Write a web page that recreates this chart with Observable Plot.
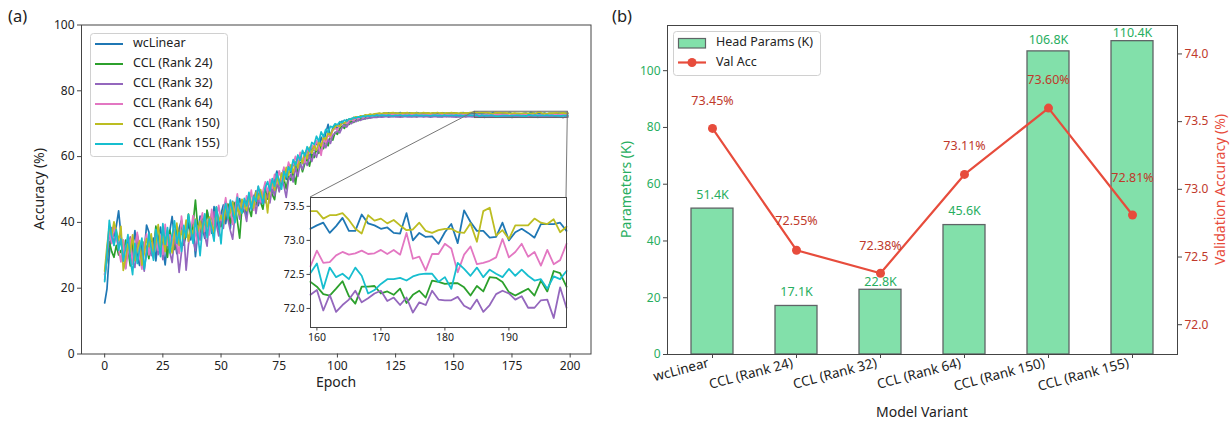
<!DOCTYPE html>
<html><head><meta charset="utf-8">
<script src="https://cdn.jsdelivr.net/npm/d3@7"></script>
<script src="https://cdn.jsdelivr.net/npm/@observablehq/plot@0.6"></script>
<style>
body{margin:0;background:#fff;}
#root{position:relative;width:1232px;height:423px;overflow:hidden;font-family:"Noto Sans",sans-serif;background:#fff;}
#root svg{position:absolute;overflow:visible;max-width:none;}
</style></head><body><div id="root"></div>
<script>
// ---------------- DATA ----------------
const models = ["wcLinear","CCL (Rank 24)","CCL (Rank 32)","CCL (Rank 64)","CCL (Rank 150)","CCL (Rank 155)"];
const modelColors = ["#1f77b4","#2ca02c","#9467bd","#e377c2","#bcbd22","#17becf"];

// accuracy per epoch (0..199), one row = 10 epochs
const accWcLinear = [
15.5,19.8,30.6,37.2,35.8,38.9,43.5,36.2,30.4,26.1,
34.2,28.5,31.7,37.5,29.8,26.9,33.4,31.0,39.2,37.1,
31.6,35.2,28.3,34.8,38.6,32.0,27.1,34.5,37.4,41.8,
34.9,30.5,38.2,40.6,33.1,36.4,39.8,34.7,38.5,29.6,
36.8,41.9,38.4,35.2,43.6,40.1,36.7,44.8,41.2,37.9,
42.7,45.3,39.6,43.8,38.2,46.4,41.9,44.5,47.2,43.6,
45.9,42.1,47.8,44.2,46.5,49.6,45.1,48.3,46.9,50.4,
47.8,51.9,49.2,52.8,55.6,51.4,54.3,56.2,53.1,57.4,
55.2,58.3,56.1,59.0,60.6,57.9,60.8,62.3,59.6,63.1,
61.8,64.7,62.5,65.9,64.1,67.2,69.8,65.9,68.7,69.5,
68.4,70.2,70.8,69.6,71.2,70.5,71.6,71.1,72.0,71.7,
72.2,71.9,72.5,72.3,72.8,72.6,72.9,72.7,73.1,72.9,
73.21,73.08,73.30,73.15,73.02,73.26,73.18,73.35,73.11,73.24,
73.05,73.29,73.17,73.12,73.38,73.20,73.09,73.27,73.14,73.31,
73.03,73.22,73.16,73.28,73.10,73.34,73.19,73.07,73.25,73.13,
73.30,73.21,73.06,73.18,73.36,73.12,73.23,73.09,73.20,73.17,
73.22,73.26,73.11,73.21,73.33,73.14,73.14,73.38,73.25,73.22,
73.17,73.19,73.11,73.10,73.40,73.00,73.11,73.05,73.06,72.95,
73.12,73.24,72.96,73.44,73.27,73.14,73.14,73.04,73.05,73.26,
73.00,73.12,73.17,73.11,73.04,73.24,73.24,73.24,73.26,73.14];

const accRank24 = [
24.3,28.6,34.1,31.2,29.4,33.0,30.1,31.5,29.8,34.6,
31.9,26.8,33.5,29.2,35.8,30.4,27.6,34.1,32.3,29.0,
35.7,31.4,38.9,33.2,30.5,36.8,33.9,29.4,37.6,34.0,
31.8,38.4,35.1,40.3,33.6,37.2,42.5,36.0,39.7,46.8,
38.3,35.4,41.2,37.9,43.7,39.1,42.8,36.5,44.6,40.2,
38.7,43.9,41.1,45.6,39.8,42.3,46.1,40.5,35.2,44.8,
43.0,46.7,44.2,41.8,47.5,45.3,48.9,46.2,44.0,49.6,
47.1,50.8,48.5,46.9,52.2,49.7,51.6,53.4,50.2,54.1,
52.8,55.9,51.6,56.8,58.2,55.4,57.9,59.6,57.1,60.8,
59.7,62.2,61.0,63.7,62.4,64.8,63.3,66.1,65.0,67.4,
66.8,68.5,69.3,68.6,70.1,69.8,70.7,70.4,71.2,70.9,
71.5,71.3,71.8,71.6,72.0,71.9,72.1,72.0,72.3,72.2,
72.28,72.35,72.19,72.31,72.24,72.40,72.22,72.30,72.15,72.33,
72.26,72.38,72.21,72.29,72.12,72.34,72.27,72.20,72.36,72.25,
72.31,72.18,72.42,72.23,72.30,72.16,72.35,72.27,72.21,72.39,
72.24,72.32,72.19,72.28,72.37,72.22,72.30,72.26,72.34,72.39,
72.32,72.21,72.19,72.29,72.40,72.18,72.07,72.32,72.32,72.33,
72.22,72.25,72.20,72.29,72.08,72.20,72.26,72.16,72.41,72.39,
72.36,72.37,72.37,72.31,72.19,72.33,72.25,72.46,72.45,72.39,
72.24,72.19,72.24,72.29,72.19,72.41,72.25,72.55,72.52,72.32];

const accRank32 = [
22.5,29.7,35.8,38.4,33.1,36.9,32.6,35.2,30.8,27.4,
32.9,35.6,28.1,26.3,36.4,33.0,29.5,25.2,31.8,34.7,
29.9,32.5,36.8,30.2,34.4,28.7,33.9,37.5,31.0,27.8,
35.3,32.1,24.8,30.9,36.7,25.5,33.2,38.1,35.0,31.4,
38.9,34.6,40.5,36.1,32.8,41.3,37.7,43.2,39.4,35.9,
41.7,38.2,44.3,40.8,37.5,34.9,42.6,45.1,41.0,46.5,
43.8,40.3,46.9,44.5,48.2,42.7,47.4,45.8,49.3,46.0,
48.6,45.9,50.7,48.1,52.5,49.3,53.8,51.2,47.6,53.0,
54.7,52.3,56.5,54.0,57.8,56.1,58.9,57.3,60.2,58.5,
61.3,59.8,62.6,61.4,63.9,62.7,65.3,64.0,66.5,67.1,
67.9,67.2,68.8,69.5,69.0,70.2,70.0,70.8,70.6,71.2,
71.0,71.5,71.4,71.8,71.7,71.9,72.0,71.9,72.1,72.0,
72.10,72.18,72.02,72.14,72.21,72.07,72.15,71.98,72.12,72.20,
72.05,72.16,72.09,72.23,72.03,72.13,72.19,72.06,72.11,72.17,
72.00,72.14,72.22,72.08,72.15,72.04,72.18,72.10,72.24,72.06,
72.13,72.01,72.16,72.09,72.20,72.05,72.12,72.17,72.08,72.20,
72.27,71.97,72.20,71.95,72.05,72.13,72.26,72.09,72.15,72.22,
72.26,72.11,72.16,72.05,72.16,71.94,72.09,72.05,72.26,72.13,
72.12,72.12,72.17,72.04,71.99,72.13,71.95,72.05,72.21,72.26,
72.22,72.13,72.18,72.01,72.01,72.12,72.13,71.86,72.31,72.01];

const accRank64 = [
24.0,31.2,37.5,33.6,39.1,35.4,31.8,28.0,34.7,25.9,
30.6,34.9,27.3,32.4,37.0,29.6,25.8,33.3,36.5,30.1,
33.8,29.2,37.1,31.5,35.9,30.3,39.4,33.0,36.2,32.7,
37.8,33.4,30.6,41.9,35.7,39.3,34.1,37.6,42.1,36.3,
33.8,39.7,42.9,37.3,40.6,36.2,44.0,38.5,41.4,45.2,
40.6,43.2,47.5,42.0,45.8,39.4,44.1,48.7,43.5,46.9,
44.2,48.1,45.5,49.8,43.7,47.6,50.9,46.3,49.5,52.3,
49.0,53.1,50.4,54.6,51.8,55.7,53.0,56.8,54.5,58.3,
56.0,57.7,60.1,57.4,61.3,59.0,58.2,62.5,60.9,63.6,
62.0,64.9,63.1,60.4,65.6,64.2,66.8,65.7,67.9,68.6,
68.1,69.4,69.9,70.3,70.0,70.9,71.3,71.0,71.7,71.6,
72.0,71.8,72.3,72.1,72.5,72.4,72.6,72.5,72.8,72.7,
72.78,72.86,72.71,72.83,72.90,72.75,72.81,72.68,72.85,72.79,
72.92,72.74,72.82,72.88,72.70,72.80,72.87,72.76,72.84,72.72,
72.89,72.79,72.83,72.69,72.86,72.77,72.91,72.80,72.73,72.85,
72.78,72.88,72.74,72.82,72.76,72.87,72.71,72.84,72.66,72.62,
72.85,72.67,72.68,72.78,72.83,72.79,72.81,72.85,72.80,72.81,
72.86,72.80,72.86,72.79,73.11,72.73,72.76,72.56,72.80,72.80,
72.95,72.88,72.53,72.79,72.91,72.65,72.67,72.70,72.75,73.02,
72.75,72.83,72.95,72.76,72.83,72.63,72.86,72.65,72.71,72.95];

const accRank150 = [
25.2,32.8,38.7,36.1,40.2,37.3,34.5,38.8,25.4,29.1,
33.5,30.8,36.2,28.4,31.9,34.4,27.0,30.5,35.1,32.6,
36.5,30.1,33.7,39.3,32.4,35.8,31.2,36.9,34.0,30.7,
36.2,39.8,33.0,37.4,35.1,40.7,34.3,38.2,36.6,41.0,
37.1,40.4,36.8,42.2,38.7,41.6,39.2,37.0,43.5,40.3,
42.1,39.7,44.9,41.4,43.0,46.2,40.8,44.6,42.3,47.0,
45.2,43.6,48.3,46.0,44.4,49.2,47.1,50.0,46.5,48.8,
42.9,50.2,52.7,49.8,53.9,51.5,55.0,52.6,56.7,54.3,
57.5,55.0,58.4,56.6,59.7,58.0,61.2,59.4,62.8,61.0,
63.4,61.9,64.5,63.2,66.0,65.1,67.3,66.4,68.2,69.0,
69.6,69.1,70.4,70.1,70.9,71.4,71.2,71.9,72.1,72.0,
72.4,72.3,72.7,72.6,72.9,72.8,73.0,73.1,73.2,73.1,
73.22,73.30,73.15,73.27,73.35,73.19,73.25,73.12,73.31,73.24,
73.38,73.18,73.28,73.21,73.33,73.14,73.26,73.36,73.20,73.29,
73.16,73.32,73.23,73.40,73.19,73.27,73.13,73.30,73.25,73.37,
73.21,73.28,73.17,73.34,73.24,73.31,73.20,73.38,73.42,73.43,
73.43,73.32,73.37,73.37,73.40,73.30,73.17,73.10,73.37,73.29,
73.32,73.25,73.30,73.22,73.15,73.16,73.26,73.14,73.11,73.15,
73.17,73.17,73.12,73.11,73.25,72.98,73.43,73.48,73.07,73.15,
73.02,73.22,73.22,73.22,73.32,73.26,73.24,73.31,73.12,73.20];

const accRank155 = [
22.0,30.4,40.6,35.7,33.0,37.8,31.5,34.9,28.2,32.1,
36.3,29.0,24.1,33.6,27.5,31.9,35.2,25.8,30.4,36.7,
32.2,28.5,37.9,34.1,29.6,39.6,33.3,38.4,30.8,36.0,
40.5,33.7,37.0,31.2,39.1,35.5,42.4,37.9,33.6,40.8,
36.5,29.9,38.1,42.6,35.4,41.0,37.8,34.3,44.7,39.6,
33.5,42.9,45.7,41.2,46.8,43.3,39.9,47.6,44.4,42.8,
47.3,45.0,49.1,43.9,47.9,46.4,51.0,48.2,45.7,50.6,
52.4,49.6,53.3,51.0,54.8,52.7,50.1,55.5,53.8,56.9,
55.6,59.1,57.3,60.5,58.8,61.9,60.2,63.0,61.6,64.3,
63.7,66.2,64.6,67.5,66.0,68.3,67.4,69.2,68.9,70.0,
69.7,70.6,70.3,71.1,70.8,71.5,71.3,71.9,71.7,72.1,
72.0,72.3,72.2,72.4,72.3,72.5,72.4,72.6,72.5,72.6,
72.52,72.45,72.60,72.48,72.38,72.56,72.50,72.63,72.42,72.54,
72.47,72.58,72.40,72.51,72.62,72.46,72.55,72.43,72.57,72.49,
72.36,72.53,72.61,72.47,72.55,72.41,72.59,72.50,72.44,72.57,
72.48,72.62,72.45,72.53,72.39,72.56,72.50,72.58,72.55,72.52,
72.66,72.29,72.60,72.46,72.51,72.43,72.60,72.48,72.22,72.27,
72.36,72.43,72.43,72.45,72.41,72.47,72.50,72.51,72.51,72.39,
72.46,72.29,72.67,72.58,72.48,72.60,72.46,72.57,72.51,72.46,
72.58,72.48,72.57,72.48,72.41,72.43,72.29,72.47,72.43,72.55];

const epochTicks = [0,25,50,75,100,125,150,175,200];
const accTicks = [0,20,40,60,80,100];
const insetEpochs = [159,199];
const insetAcc = [71.72,73.63];
const insetEpochTicks = [160,170,180,190];
const insetAccTicks = [72.0,72.5,73.0,73.5];

// panel (b)
const variants = ["wcLinear","CCL (Rank 24)","CCL (Rank 32)","CCL (Rank 64)","CCL (Rank 150)","CCL (Rank 155)"];
const headParams = [51.4,17.1,22.8,45.6,106.8,110.4];
const valAcc = [73.45,72.55,72.38,73.11,73.60,72.81];
const paramTicks = [0,20,40,60,80,100];
const valAccTicks = [72.0,72.5,73.0,73.5,74.0];

// ---------------- LAYOUT / STYLE ----------------
const FONT = '"Noto Sans", sans-serif';
const SPINE = "#444";
const barLabelDy = [-14,-14,-8,-14,-11,-8.5];
const accLabelDy = [-27.5,-29,-27,-28.5,-28,-37];

const curves = [accWcLinear,accRank24,accRank32,accRank64,accRank150,accRank155];
curves.forEach((c,k)=>{ if (c.length !== 200) throw new Error(models[k]+" length "+c.length); });
const rows = models.flatMap((m,k)=>curves[k].map((v,i)=>({model:m, epoch:i, acc:v})));
const insetRows = rows.filter(d=>d.epoch>=insetEpochs[0] && d.epoch<=insetEpochs[1]);

const root = document.getElementById("root");
function place(svg, left, top){ svg.style.left = left+"px"; svg.style.top = top+"px"; root.appendChild(svg); return svg; }

// ---- main (a)
const main = Plot.plot({
  width: 600, height: 423,
  marginLeft: 81, marginRight: 9.5, marginTop: 24.5, marginBottom: 69.5,
  style: {background:"transparent", fontFamily: FONT, fontSize:"12px", color:"#222"},
  x: {domain:[-9.95,208.95]},
  y: {domain:[0,100]},
  color: {domain: models, range: modelColors},
  marks: [
    Plot.line(rows, {x:"epoch", y:"acc", z:"model", stroke:"model", strokeWidth:1.7}),
    Plot.rect([{}], {x1:()=>insetEpochs[0], x2:()=>insetEpochs[1], y1:()=>insetAcc[0], y2:()=>insetAcc[1], fill:"none", stroke:"#666", strokeWidth:1}),
    Plot.frame({stroke:SPINE}),
    Plot.axisX({ticks:epochTicks, tickSize:4, tickPadding:3, label:null, stroke:SPINE, fill:"#222"}),
    Plot.axisY({ticks:accTicks, tickSize:4, tickPadding:3, label:null, stroke:SPINE, fill:"#222"})
  ]
});
place(main, 0, 0);

// ---- inset
const insetLeft = 270, insetTop = 187;
const inset = Plot.plot({
  width: 306, height: 165,
  marginLeft: 40, marginRight: 10, marginTop: 10, marginBottom: 25,
  style: {background:"transparent", fontFamily: FONT, fontSize:"10.5px", color:"#222"},
  x: {domain: insetEpochs},
  y: {domain: insetAcc},
  color: {domain: models, range: modelColors},
  marks: [
    Plot.frame({fill:"white", stroke:"none"}),
    Plot.line(insetRows, {x:"epoch", y:"acc", z:"model", stroke:"model", strokeWidth:1.8}),
    Plot.frame({stroke:SPINE}),
    Plot.axisX({ticks:insetEpochTicks, tickSize:3.5, tickPadding:2.5, label:null, stroke:SPINE, fill:"#222"}),
    Plot.axisY({ticks:insetAccTicks, tickFormat:".1f", tickSize:3.5, tickPadding:2.5, label:null, stroke:SPINE, fill:"#222"})
  ]
});
place(inset, insetLeft, insetTop);

// ---- panel (b) bars
const barRows = variants.map((v,i)=>({variant:v, params:headParams[i], acc:valAcc[i]}));
const bLeft = 600;
const bOpts = {width:632, height:423, marginLeft:67, marginRight:55, marginTop:25, marginBottom:69};
const bars = Plot.plot({
  ...bOpts,
  style: {background:"transparent", fontFamily: FONT, fontSize:"12px", color:"#222"},
  x: {type:"band", domain: variants, paddingInner:0.5, paddingOuter:0.275},
  y: {domain:[0,115.92]},
  marks: [
    Plot.barY(barRows, {x:"variant", y:"params", fill:"#82e0aa", stroke:"#5f6466", strokeWidth:1.3}),
    ...barRows.map((r,i)=>Plot.text([r], {x:"variant", y:"params", text:d=>d.params.toFixed(1)+"K", dy:barLabelDy[i], fill:"#27ae60", fontSize:12.5})),
    Plot.frame({stroke:SPINE}),
    Plot.axisX({tickSize:4, tickFormat:()=>"", label:null, stroke:SPINE}),
    Plot.axisX({tickSize:0, tickPadding:7, tickRotate:-15, dx:-4, dy:1, fontSize:13.5, label:null, fill:"#222"}),
    Plot.axisY({ticks:paramTicks, tickSize:4, tickPadding:3, label:null, stroke:SPINE, fill:"#27ae60"})
  ]
});
place(bars, bLeft, 0);

const accPlot = Plot.plot({
  ...bOpts,
  style: {background:"transparent", fontFamily: FONT, fontSize:"12px", color:"#222"},
  x: {type:"point", domain: variants, padding:0.525, axis:null},
  y: {domain:[71.78,74.21]},
  marks: [
    Plot.line(barRows, {x:"variant", y:"acc", stroke:"#e74c3c", strokeWidth:2.2}),
    Plot.dot(barRows, {x:"variant", y:"acc", r:4.5, fill:"#e74c3c", stroke:"none"}),
    ...barRows.map((r,i)=>Plot.text([r], {x:"variant", y:"acc", text:d=>d.acc.toFixed(2)+"%", dy:accLabelDy[i], fill:"#c0392b", fontSize:12.5})),
    Plot.axisY({anchor:"right", ticks:valAccTicks, tickFormat:".1f", tickSize:4, tickPadding:3, label:null, stroke:SPINE, fill:"#c0392b"})
  ]
});
place(accPlot, bLeft, 0);

// ---------------- OVERLAY: labels, legends, connectors ----------------
const ov = d3.select(root).append("svg").attr("width",1232).attr("height",423)
  .style("left","0px").style("top","0px").style("font-family",FONT);

// connectors for the inset
const mx = main.scale("x"), my = main.scale("y"), ix = inset.scale("x"), iy = inset.scale("y");
const conn = [
  [mx.apply(insetEpochs[0]), my.apply(insetAcc[1]), insetLeft+ix.apply(insetEpochs[0]), insetTop+iy.apply(insetAcc[1])],
  [mx.apply(insetEpochs[1]), my.apply(insetAcc[1]), insetLeft+ix.apply(insetEpochs[1]), insetTop+iy.apply(insetAcc[1])]
];
ov.selectAll("line.conn").data(conn).join("line").attr("class","conn")
  .attr("x1",d=>d[0]).attr("y1",d=>d[1]).attr("x2",d=>d[2]).attr("y2",d=>d[3])
  .attr("stroke","#777").attr("stroke-width",1);

function txt(x,y,s,opt={}){
  const t = ov.append("text").attr("x",x).attr("y",y).text(s)
    .attr("font-size",opt.size||14).attr("fill",opt.fill||"#222")
    .attr("text-anchor",opt.anchor||"middle").attr("dominant-baseline",opt.baseline||"middle");
  if (opt.rotate) t.attr("transform",`rotate(${opt.rotate},${x},${y})`);
  return t;
}
txt(8,17.5,"(a)",{size:16.5,anchor:"start"});
txt(612,17.5,"(b)",{size:16.5,anchor:"start"});
txt(40,189,"Accuracy (%)",{rotate:-90});
txt(336,383,"Epoch");
txt(627,189.5,"Parameters (K)",{rotate:-90,fill:"#27ae60"});
txt(1221,189.5,"Validation Accuracy (%)",{rotate:-90,fill:"#e74c3c"});
txt(922,413,"Model Variant");

// legend (a)
const lgA = ov.append("g");
lgA.append("rect").attr("x",90.5).attr("y",33.5).attr("width",137).attr("height",123).attr("rx",3)
  .attr("fill","white").attr("fill-opacity",0.85).attr("stroke","#d0d0d0");
models.forEach((m,i)=>{
  const y = 44 + i*20;
  lgA.append("line").attr("x1",95).attr("x2",123).attr("y1",y).attr("y2",y).attr("stroke",modelColors[i]).attr("stroke-width",2);
  lgA.append("text").attr("x",133).attr("y",y).attr("dominant-baseline","middle").attr("font-size",12.5).attr("fill","#222").text(m);
});

// legend (b)
const lgB = ov.append("g");
lgB.append("rect").attr("x",673.5).attr("y",31.5).attr("width",147).attr("height",44).attr("rx",3)
  .attr("fill","white").attr("fill-opacity",0.85).attr("stroke","#d0d0d0");
lgB.append("rect").attr("x",678.5).attr("y",38.5).attr("width",27).attr("height",9.5).attr("fill","#82e0aa").attr("stroke","#5f6466").attr("stroke-width",1.2);
lgB.append("text").attr("x",716).attr("y",43).attr("dominant-baseline","middle").attr("font-size",12.5).attr("fill","#222").text("Head Params (K)");
lgB.append("line").attr("x1",678).attr("x2",706).attr("y1",62.5).attr("y2",62.5).attr("stroke","#e74c3c").attr("stroke-width",2.2);
lgB.append("circle").attr("cx",692).attr("cy",62.5).attr("r",4.5).attr("fill","#e74c3c");
lgB.append("text").attr("x",716).attr("y",62.5).attr("dominant-baseline","middle").attr("font-size",12.5).attr("fill","#222").text("Val Acc");
</script></body></html>
